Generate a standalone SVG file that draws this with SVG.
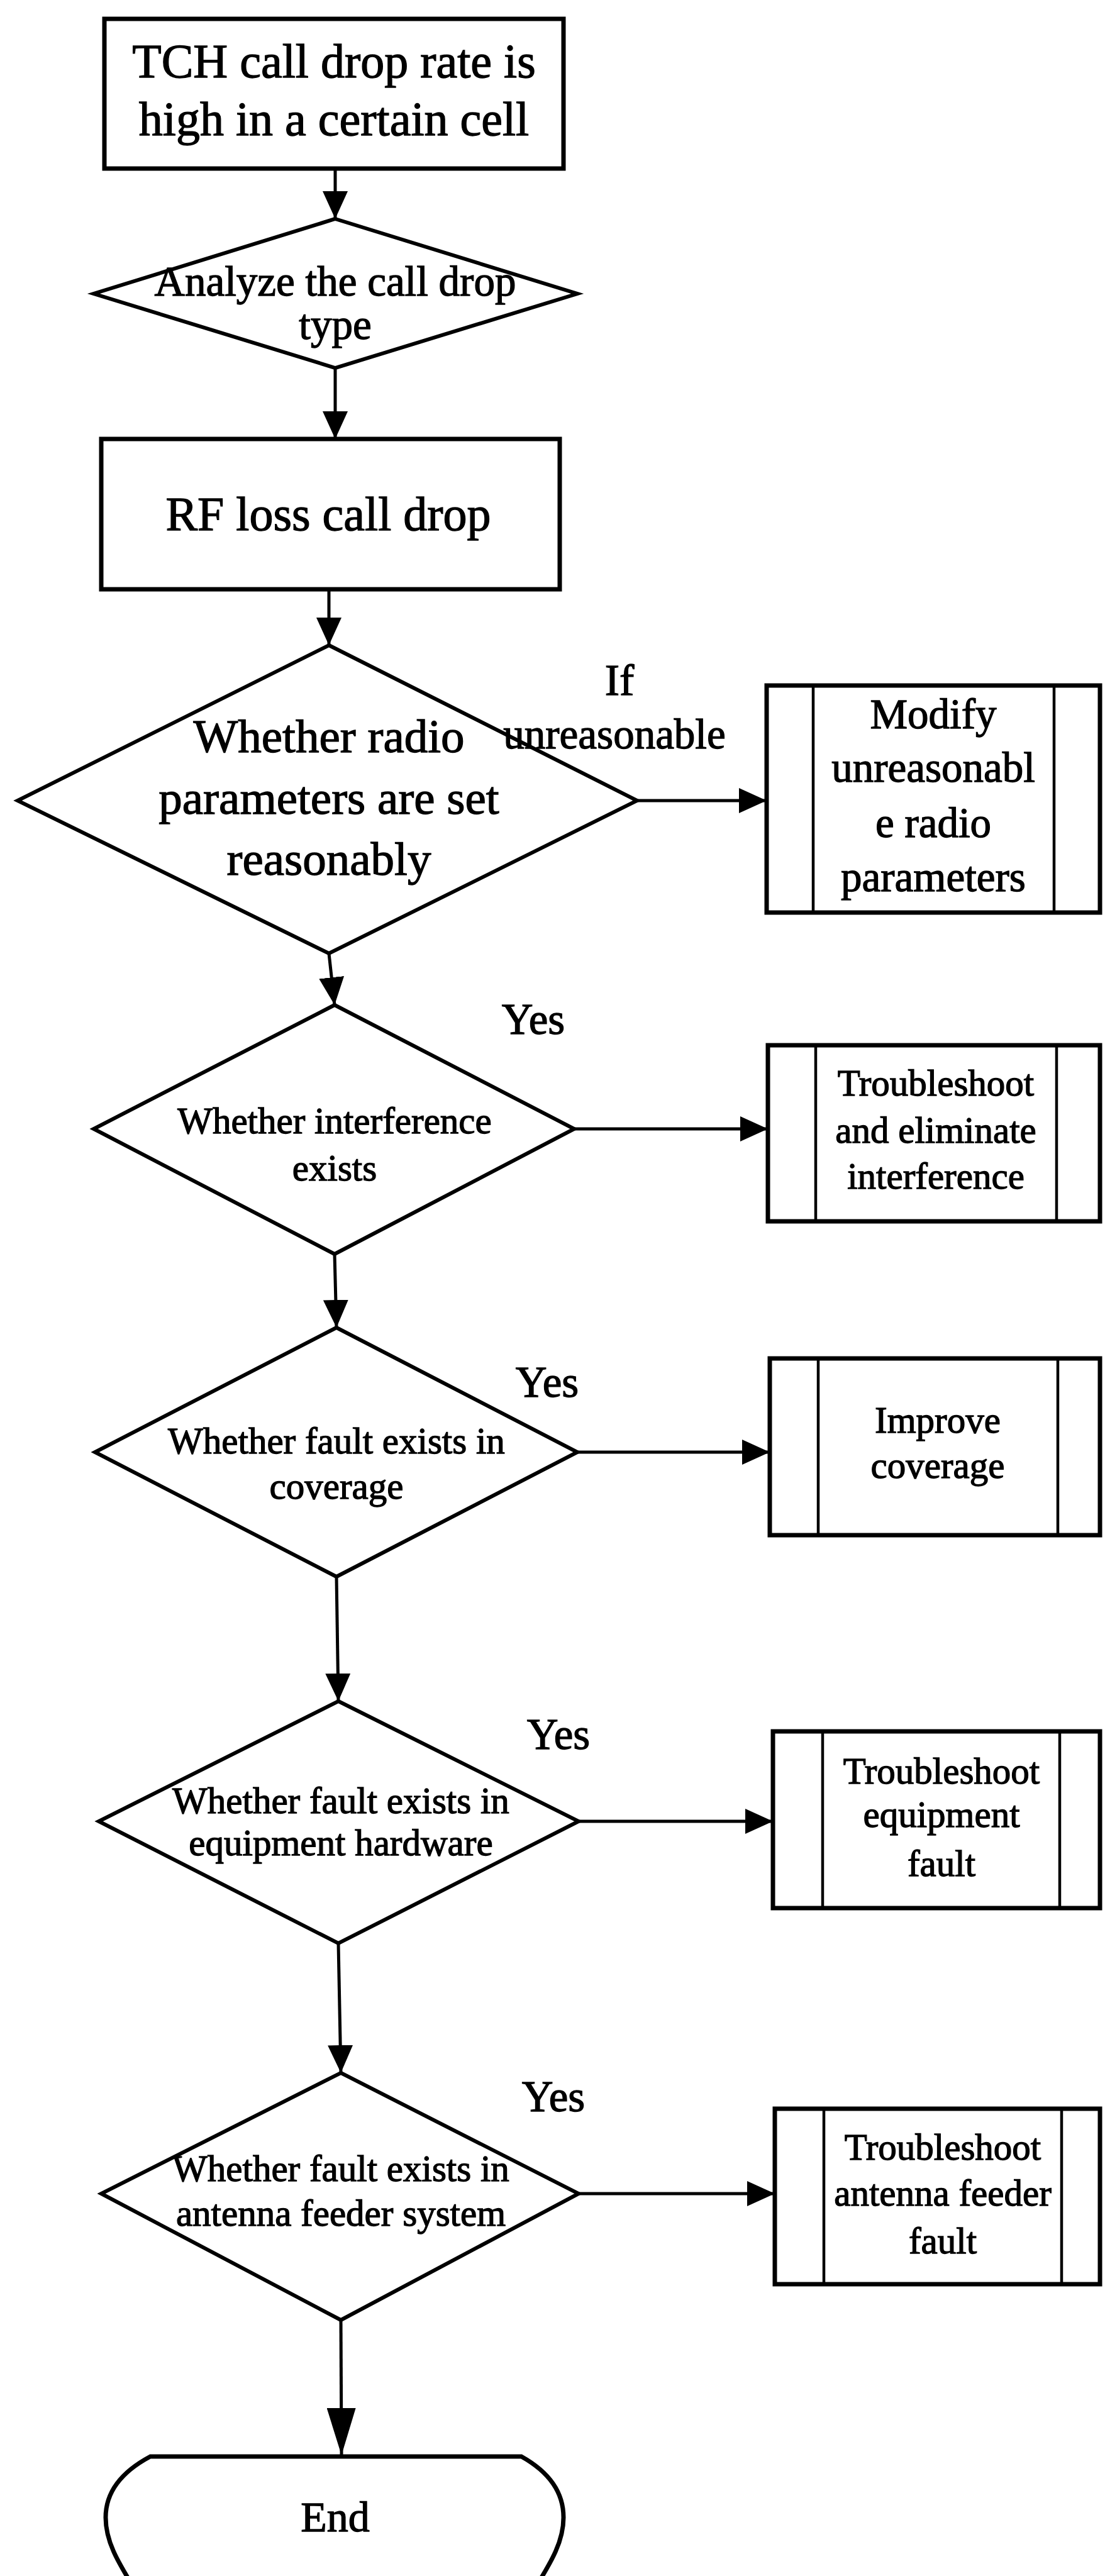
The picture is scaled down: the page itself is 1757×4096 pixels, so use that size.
<svg xmlns="http://www.w3.org/2000/svg" width="1757" height="4096" viewBox="0 0 1757 4096">
<style>
.box{fill:#fff;stroke:#000;stroke-width:7}
.dia{fill:#fff;stroke:#000;stroke-width:6}
.sep{stroke:#000;stroke-width:4.5;fill:none}
.conn{stroke:#000;stroke-width:5;fill:none;marker-end:url(#arr)}
.connb{stroke:#000;stroke-width:5;fill:none;marker-end:url(#arrb)}
text{font-family:"Liberation Serif","Times New Roman",serif;fill:#000;stroke:#000;stroke-width:1.3;text-anchor:middle}
.f76{font-size:76px}.f75{font-size:75px}.f70{font-size:70px}.f69{font-size:69px}.f68{font-size:68px}.f67{font-size:67px}.f59{font-size:59px}
</style>
<defs>
<marker id="arr" markerUnits="userSpaceOnUse" markerWidth="44" markerHeight="40" refX="44" refY="20" orient="auto"><path d="M0,0 L44,20 L0,40 Z" fill="#000"/></marker>
<marker id="arrb" markerUnits="userSpaceOnUse" markerWidth="75" markerHeight="46" refX="75" refY="23" orient="auto"><path d="M0,0 L75,23 L0,46 Z" fill="#000"/></marker>
</defs>
<rect width="1757" height="4096" fill="#fff"/>
<g id="connectors">
<path class="conn" d="M533,268 L533,348"/>
<path class="conn" d="M533,585 L533,698"/>
<path class="conn" d="M523,937 L523,1026"/>
<path class="conn" d="M523,1516 L532,1598"/>
<path class="conn" d="M532,1994 L535,2111"/>
<path class="conn" d="M535,2507 L538,2705"/>
<path class="conn" d="M538,3090 L542,3296"/>
<path class="connb" d="M542,3689 L543,3904"/>
<path class="conn" d="M1013,1273 L1219,1273"/>
<path class="conn" d="M913,1795 L1221,1795"/>
<path class="conn" d="M918,2309 L1224,2309"/>
<path class="conn" d="M920,2896 L1229,2896"/>
<path class="conn" d="M920,3488 L1232,3488"/>
</g>
<g id="start">
<rect class="box" x="166" y="30" width="730" height="238"/>
<text class="f76" x="531" y="123">TCH call drop rate is</text>
<text class="f76" x="531" y="215">high in a certain cell</text>
</g>
<g id="analyze">
<polygon class="dia" points="533,348 918,467 533,585 149,467"/>
<text class="f67" x="533" y="470">Analyze the call drop</text>
<text class="f67" x="533" y="539">type</text>
</g>
<g id="rfloss">
<rect class="box" x="161" y="698" width="729" height="239"/>
<text class="f76" x="522" y="843">RF loss call drop</text>
</g>
<g id="radio">
<polygon class="dia" points="523,1026 1013,1273 523,1516 28,1273"/>
<text class="f75" x="523" y="1196">Whether radio</text>
<text class="f75" x="523" y="1294">parameters are set</text>
<text class="f75" x="523" y="1391">reasonably</text>
</g>
<g id="label-if">
<text class="f70" x="985" y="1105">If</text>
<text class="f67" x="977" y="1190">unreasonable</text>
</g>
<g id="modify">
<rect class="box" x="1219" y="1090" width="530" height="361"/>
<line class="sep" x1="1293" y1="1090" x2="1293" y2="1451"/>
<line class="sep" x1="1676" y1="1090" x2="1676" y2="1451"/>
<text class="f67" x="1484" y="1158">Modify</text>
<text class="f67" x="1484" y="1243">unreasonabl</text>
<text class="f67" x="1484" y="1331">e radio</text>
<text class="f67" x="1484" y="1417">parameters</text>
</g>
<g id="yes1"><text class="f69" x="848" y="1644">Yes</text></g>
<g id="interference">
<polygon class="dia" points="532,1598 913,1795 532,1994 149,1795"/>
<text class="f59" x="532" y="1802">Whether interference</text>
<text class="f59" x="532" y="1877">exists</text>
</g>
<g id="eliminate">
<rect class="box" x="1221" y="1662" width="528" height="280"/>
<line class="sep" x1="1297" y1="1662" x2="1297" y2="1942"/>
<line class="sep" x1="1680" y1="1662" x2="1680" y2="1942"/>
<text class="f59" x="1488" y="1742">Troubleshoot</text>
<text class="f59" x="1488" y="1817">and eliminate</text>
<text class="f59" x="1488" y="1890">interference</text>
</g>
<g id="yes2"><text class="f69" x="870" y="2221">Yes</text></g>
<g id="coverage">
<polygon class="dia" points="535,2111 918,2309 535,2507 151,2309"/>
<text class="f59" x="535" y="2311">Whether fault exists in</text>
<text class="f59" x="535" y="2383">coverage</text>
</g>
<g id="improve">
<rect class="box" x="1224" y="2160" width="525" height="281"/>
<line class="sep" x1="1301" y1="2160" x2="1301" y2="2441"/>
<line class="sep" x1="1682" y1="2160" x2="1682" y2="2441"/>
<text class="f59" x="1491" y="2278">Improve</text>
<text class="f59" x="1491" y="2350">coverage</text>
</g>
<g id="yes3"><text class="f69" x="888" y="2781">Yes</text></g>
<g id="hardware">
<polygon class="dia" points="538,2705 920,2896 538,3090 157,2896"/>
<text class="f59" x="542" y="2883">Whether fault exists in</text>
<text class="f59" x="542" y="2950">equipment hardware</text>
</g>
<g id="equipfault">
<rect class="box" x="1229" y="2753" width="520" height="281"/>
<line class="sep" x1="1308" y1="2753" x2="1308" y2="3034"/>
<line class="sep" x1="1685" y1="2753" x2="1685" y2="3034"/>
<text class="f59" x="1497" y="2836">Troubleshoot</text>
<text class="f59" x="1497" y="2905">equipment</text>
<text class="f59" x="1497" y="2983">fault</text>
</g>
<g id="yes4"><text class="f69" x="880" y="3357">Yes</text></g>
<g id="antenna">
<polygon class="dia" points="542,3296 920,3488 542,3689 161,3488"/>
<text class="f59" x="542" y="3468">Whether fault exists in</text>
<text class="f59" x="542" y="3539">antenna feeder system</text>
</g>
<g id="antennafault">
<rect class="box" x="1232" y="3353" width="517" height="279"/>
<line class="sep" x1="1310" y1="3353" x2="1310" y2="3632"/>
<line class="sep" x1="1688" y1="3353" x2="1688" y2="3632"/>
<text class="f59" x="1499" y="3434">Troubleshoot</text>
<text class="f59" x="1499" y="3507">antenna feeder</text>
<text class="f59" x="1499" y="3583">fault</text>
</g>
<g id="end">
<path class="box" d="M239,3906 L829,3906 C872,3930 896,3962 896,4003 C896,4045 872,4080 848,4120 L216,4120 C192,4080 168,4045 168,4003 C168,3962 194,3930 239,3906 Z"/>
<text class="f68" x="533" y="4025">End</text>
</g>
</svg>
